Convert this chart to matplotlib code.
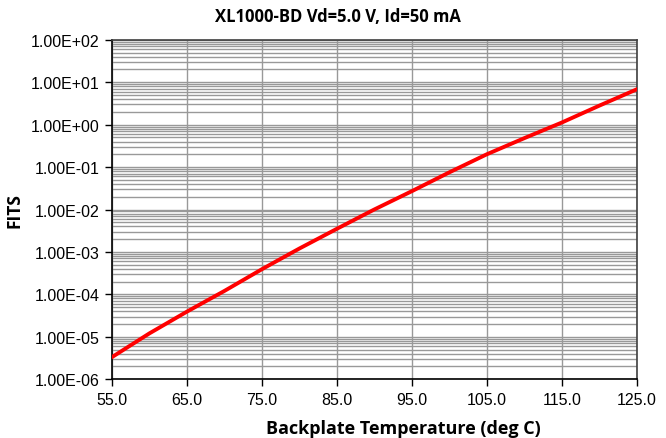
import matplotlib
matplotlib.use("Agg")
import matplotlib.pyplot as plt
from matplotlib.ticker import FuncFormatter, LogLocator, FixedLocator, NullFormatter

# Values.
temperature = [55, 60, 65, 70, 75, 80, 85, 90, 95, 100, 105, 110, 115, 120, 125]
fits = [3.3e-6, 1.2e-5, 3.9e-5, 1.2e-4, 3.9e-4, 1.2e-3, 3.5e-3, 1.0e-2,
        2.7e-2, 7.5e-2, 0.2, 0.48, 1.12, 2.8, 6.8]
x_ticks = [55, 65, 75, 85, 95, 105, 115, 125]

fig = plt.figure(figsize=(6.66, 4.39), dpi=100)
ax = fig.add_axes([0.168, 0.134, 0.788, 0.773])

ax.plot(temperature, fits, color="#ff0000", lw=2.8, zorder=3)

ax.set_yscale("log")
ax.set_ylim(1e-6, 1e2)
ax.set_xlim(55, 125)

ax.xaxis.set_major_locator(FixedLocator(x_ticks))
ax.xaxis.set_major_formatter(FuncFormatter(lambda v, p: f"{v:.1f}"))
ax.yaxis.set_major_locator(LogLocator(base=10, numticks=20))
ax.yaxis.set_minor_locator(LogLocator(base=10, subs=range(2, 10), numticks=20))
ax.yaxis.set_major_formatter(FuncFormatter(lambda v, p: f"{v:.2E}"))
ax.yaxis.set_minor_formatter(NullFormatter())

ax.grid(True, which="major", color="#999999", lw=1.0)
ax.grid(True, which="minor", axis="y", color="#999999", lw=1.0)

for lbl in ax.get_xticklabels() + ax.get_yticklabels():
    lbl.set_family("Liberation Sans")
    lbl.set_fontsize(11.5)
ax.tick_params(which="major", direction="out", length=5, width=1, color="black", pad=4)
ax.tick_params(which="minor", length=0)

ax.spines["left"].set_color("black")
ax.spines["bottom"].set_color("black")
ax.spines["top"].set_color("#404040")
ax.spines["right"].set_color("#404040")
for s in ax.spines.values():
    s.set_linewidth(1.2)

# Title and x label sit off the axes centre, as in the reference.
fig.text(0.508, 0.962, "XL1000-BD Vd=5.0 V, Id=50 mA", family="Open Sans",
         fontweight="bold", fontsize=12, ha="center", va="center")
fig.text(0.606, 0.022, "Backplate Temperature (deg C)", family="Open Sans",
         fontweight="bold", fontsize=13, ha="center", va="center")
ax.set_ylabel("FITS", family="Open Sans", fontweight="bold", fontsize=12.5, labelpad=5)

fig.savefig("out.png", dpi=100)
